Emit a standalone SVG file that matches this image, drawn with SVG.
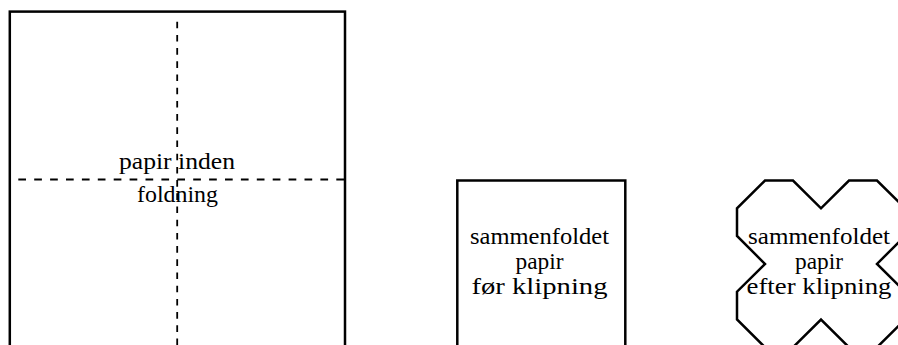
<svg xmlns="http://www.w3.org/2000/svg" width="898" height="345" viewBox="0 0 898 345">
<style>
.frame{fill:none;stroke:#000;stroke-width:2.5;stroke-linejoin:miter}
.dash{fill:none;stroke:#000;stroke-width:1.8}
text{font-family:"Liberation Serif",serif;font-size:23px;fill:#000;text-anchor:middle}
</style>
<rect width="898" height="345" fill="#fff"/>
<g id="paper-unfolded">
<rect class="frame" x="9.8" y="11.6" width="335.2" height="336.4"/>
<line class="dash" x1="177.2" y1="21.7" x2="177.2" y2="348" stroke-dasharray="6.6 6.6"/>
<line class="dash" x1="18.3" y1="179.5" x2="345" y2="179.5" stroke-dasharray="7.7 8.2"/>
<text x="177" y="169" textLength="116" lengthAdjust="spacingAndGlyphs">papir inden</text>
<text x="177.5" y="201.5" textLength="81" lengthAdjust="spacingAndGlyphs">foldning</text>
</g>
<g id="paper-folded">
<rect class="frame" x="457.3" y="180.5" width="168" height="168"/>
<text x="539.5" y="243.5" textLength="139" lengthAdjust="spacingAndGlyphs">sammenfoldet</text>
<text x="539.5" y="268.5" textLength="48" lengthAdjust="spacingAndGlyphs">papir</text>
<text x="539.5" y="293.5" textLength="136" lengthAdjust="spacingAndGlyphs">før klipning</text>
</g>
<g id="paper-cut">
<polygon class="frame" points="765,180.5 793,180.5 821,208.3 849,180.5 877,180.5 905,208.3 905,236 877,263.9 905,291.7 905,319.5 877,347.3 849,347.3 821,319.5 793,347.3 765,347.3 737,319.5 737,291.7 765,263.9 737,236 737,208.3"/>
<text x="819" y="243.5" textLength="142" lengthAdjust="spacingAndGlyphs">sammenfoldet</text>
<text x="819" y="268.5" textLength="48" lengthAdjust="spacingAndGlyphs">papir</text>
<text x="819" y="293.5" textLength="145" lengthAdjust="spacingAndGlyphs">efter klipning</text>
</g>
<g id="connectors"/>
</svg>
